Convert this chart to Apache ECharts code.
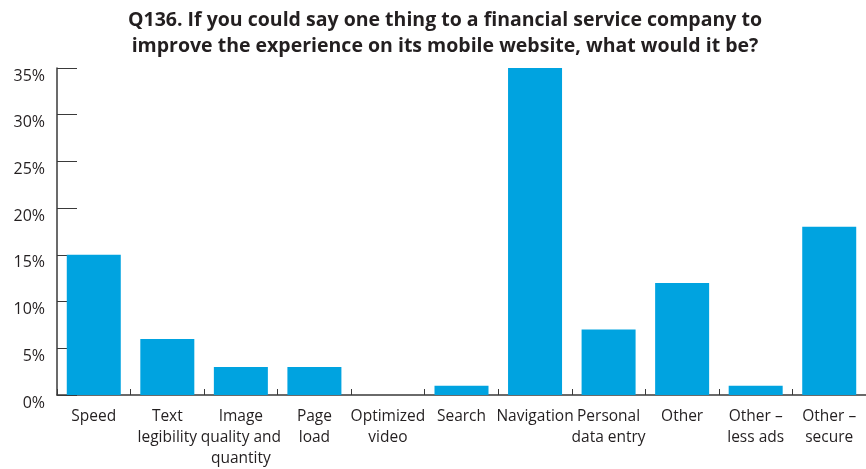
<!DOCTYPE html>
<html><head><meta charset="utf-8">
<script src="https://cdn.jsdelivr.net/npm/echarts@6/dist/echarts.min.js"></script>
<style>html,body{margin:0;padding:0;background:#fff}#c{width:866px;height:469px}</style>
</head><body><div id="c"></div>
<script>
const categories = ["Speed", "Text\nlegibility", "Image\nquality and\nquantity", "Page\nload", "Optimized\nvideo", "Search", "Navigation", "Personal\ndata entry", "Other", "Other –\nless ads", "Other –\nsecure"];
const values = [15, 6, 3, 3, 0, 1, 35, 7, 12, 1, 18];
const yTicks = [0, 5, 10, 15, 20, 25, 30, 35];
const titleText = "Q136. If you could say one thing to a financial service company to\nimprove the experience on its mobile website, what would it be?";

const FONT = "'Open Sans', 'Noto Sans', sans-serif";
const chart = echarts.init(document.getElementById('c'), null, {renderer: 'canvas'});
chart.setOption({
  animation: false,
  backgroundColor: '#fff',
  title: {
    text: titleText,
    left: 440, top: 2, textAlign: 'center',
    textStyle: {fontFamily: FONT, fontWeight: 'bold', fontSize: 19.5, lineHeight: 26, color: '#231f20'}
  },
  grid: {left: 57, right: -8, top: 68, bottom: 73, containLabel: false},
  xAxis: {
    type: 'category', data: categories,
    axisLine: {lineStyle: {color: '#3a3a3a', width: 1.5}},
    axisTick: {show: true, inside: true, length: 6, alignWithLabel: false, lineStyle: {color: '#3a3a3a'}},
    axisLabel: {interval: 0, margin: 11, fontFamily: FONT, fontSize: 15.5, lineHeight: 21, color: '#231f20'}
  },
  yAxis: {
    type: 'value', min: yTicks[0], max: yTicks[yTicks.length - 1], interval: 5,
    axisLine: {show: true, lineStyle: {color: '#3a3a3a', width: 1.5}},
    axisTick: {show: true, inside: true, length: 20, lineStyle: {color: '#3a3a3a'}},
    splitLine: {show: false},
    axisLabel: {formatter: '{value}%', margin: 12, verticalAlign: 'top', fontFamily: FONT, fontSize: 16, color: '#231f20'}
  },
  series: [{
    type: 'bar', data: values, barWidth: 54, z: 3,
    itemStyle: {color: '#00a3e0'}
  }]
});
</script></body></html>
